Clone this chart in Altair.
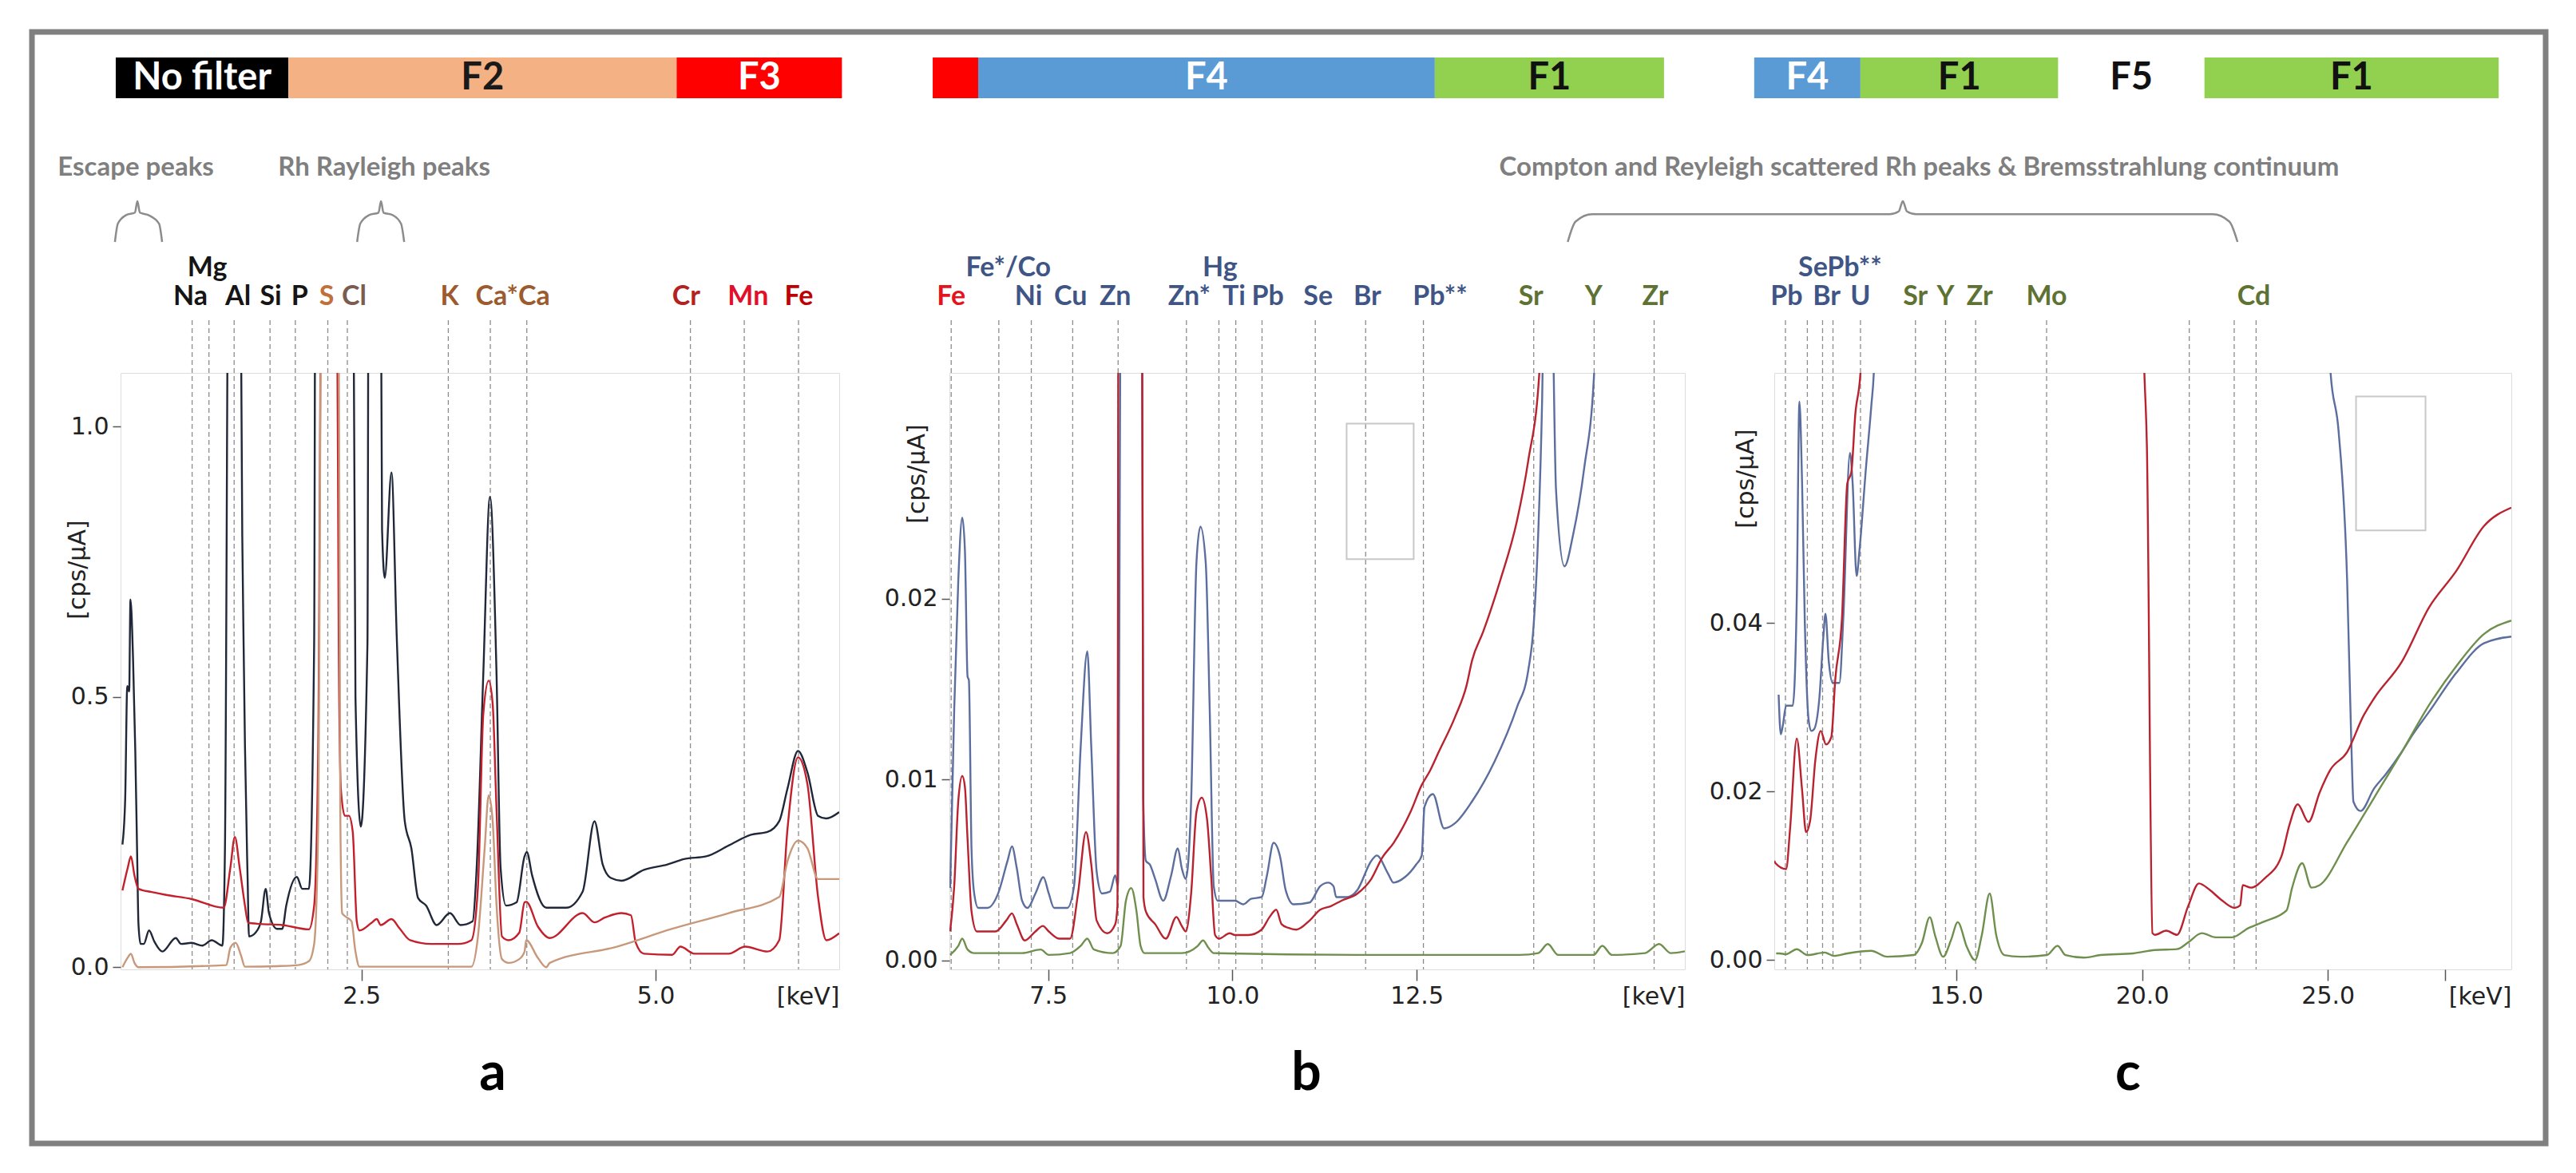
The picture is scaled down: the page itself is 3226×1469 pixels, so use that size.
import altair as alt
import pandas as pd

# ---------------- layout constants ----------------
H = 747
W_A, W_B, W_C = 900, 921, 923

A_X = [0.453, 6.56]
A_Y = [-0.004, 1.099]
B_X = [6.16, 16.14]
B_Y = [-0.0005, 0.0325]
C_X = [10.10, 29.94]
C_Y = [-0.0011, 0.0697]

# ---------------- panel a data (keV, cps/uA) ----------------
a_nofilter_kev = [0.469, 0.492, 0.510, 0.526, 0.537, 0.559, 0.578, 0.593, 0.605, 0.623,
                  0.650, 0.695, 0.741, 0.808, 0.922, 0.967, 1.057, 1.148, 1.227, 1.318,
                  1.340, 1.374, 1.465, 1.487, 1.499, 1.510, 1.533, 1.544, 1.600, 1.646,
                  1.686, 1.714, 1.782, 1.827, 1.861, 1.951, 1.997, 2.053, 2.098, 2.110,
                  2.426, 2.449, 2.494, 2.551, 2.562, 2.660, 2.675, 2.698, 2.755, 2.800,
                  2.868, 2.924, 2.981, 3.049, 3.139, 3.252, 3.343, 3.445, 3.479, 3.535,
                  3.592, 3.648, 3.682, 3.728, 3.818, 3.886, 3.905, 3.950, 4.070, 4.240,
                  4.380, 4.480, 4.550, 4.620, 4.710, 4.900, 5.100, 5.240, 5.430, 5.620,
                  5.810, 5.950, 6.050, 6.120, 6.210, 6.290, 6.380, 6.450, 6.560]
a_nofilter_cps = [0.227, 0.310, 0.520, 0.510, 0.680, 0.570, 0.400, 0.220, 0.080, 0.043,
                  0.043, 0.068, 0.047, 0.029, 0.054, 0.043, 0.045, 0.040, 0.050, 0.040,
                  0.220, 1.500, 1.500, 0.800, 0.590, 0.410, 0.160, 0.057, 0.064, 0.085,
                  0.145, 0.100, 0.071, 0.071, 0.114, 0.167, 0.145, 0.145, 0.600, 1.500,
                  1.500, 0.500, 0.260, 0.600, 1.500, 1.500, 0.810, 0.720, 0.915, 0.610,
                  0.270, 0.220, 0.128, 0.114, 0.078, 0.100, 0.078, 0.085, 0.184, 0.540,
                  0.870, 0.540, 0.185, 0.114, 0.120, 0.205, 0.213, 0.170, 0.110, 0.110,
                  0.140, 0.270, 0.190, 0.165, 0.160, 0.180, 0.190, 0.200, 0.205, 0.225,
                  0.245, 0.250, 0.270, 0.330, 0.400, 0.360, 0.280, 0.275, 0.287]

a_f3_kev = [0.469, 0.514, 0.541, 0.571, 0.605, 0.718, 0.831, 1.057, 1.329, 1.386,
            1.424, 1.465, 1.510, 1.537, 1.646, 1.827, 2.053, 2.098, 2.132, 2.166,
            2.291, 2.307, 2.325, 2.359, 2.393, 2.426, 2.460, 2.483, 2.585, 2.630,
            2.664, 2.755, 2.823, 2.913, 3.094, 3.320, 3.434, 3.490, 3.535, 3.581,
            3.615, 3.648, 3.694, 3.750, 3.841, 3.886, 3.900, 4.000, 4.100, 4.380,
            4.480, 4.570, 4.710, 4.790, 4.830, 4.900, 5.140, 5.210, 5.330, 5.620,
            5.760, 5.950, 6.050, 6.120, 6.210, 6.290, 6.380, 6.450, 6.560]
a_f3_cps = [0.142, 0.184, 0.205, 0.170, 0.145, 0.139, 0.134, 0.126, 0.110, 0.184,
            0.241, 0.184, 0.114, 0.082, 0.080, 0.078, 0.070, 0.114, 0.396, 1.500,
            1.300, 0.600, 0.330, 0.280, 0.280, 0.250, 0.085, 0.068, 0.082, 0.089,
            0.078, 0.089, 0.072, 0.050, 0.043, 0.043, 0.050, 0.149, 0.467, 0.530,
            0.487, 0.290, 0.057, 0.050, 0.064, 0.120, 0.121, 0.075, 0.054, 0.100,
            0.083, 0.092, 0.100, 0.096, 0.046, 0.025, 0.023, 0.038, 0.025, 0.025,
            0.038, 0.029, 0.050, 0.255, 0.388, 0.338, 0.130, 0.050, 0.063]

a_f2_kev = [0.469, 0.514, 0.541, 0.571, 0.605, 1.352, 1.386, 1.431, 1.476, 1.510,
            1.782, 1.963, 2.053, 2.098, 2.132, 2.166, 2.302, 2.320, 2.336, 2.370,
            2.415, 2.449, 2.483, 3.434, 3.490, 3.547, 3.581, 3.615, 3.648, 3.694,
            3.750, 3.841, 3.886, 3.900, 4.000, 4.070, 4.100, 4.670, 5.140, 5.620,
            6.050, 6.120, 6.210, 6.290, 6.380, 6.560]
a_f2_cps = [0.000, 0.018, 0.025, 0.008, 0.000, 0.004, 0.036, 0.045, 0.022, 0.001,
            0.002, 0.004, 0.011, 0.043, 0.255, 1.500, 1.500, 0.290, 0.100, 0.093,
            0.085, 0.029, 0.001, 0.001, 0.057, 0.220, 0.318, 0.270, 0.114, 0.015,
            0.008, 0.015, 0.029, 0.050, 0.017, 0.000, 0.008, 0.038, 0.071, 0.100,
            0.130, 0.196, 0.234, 0.220, 0.163, 0.163]

# ---------------- panel b data ----------------
b_f4_kev = [6.170, 6.225, 6.280, 6.334, 6.370, 6.406, 6.424, 6.460, 6.496, 6.551,
            6.677, 6.821, 6.948, 7.009, 7.074, 7.146, 7.219, 7.327, 7.435, 7.508,
            7.580, 7.760, 7.851, 7.941, 8.031, 8.085, 8.158, 8.230, 8.338, 8.410,
            8.447, 8.490, 8.772, 8.790, 8.826, 8.880, 8.952, 9.061, 9.169, 9.259,
            9.313, 9.367, 9.440, 9.512, 9.566, 9.638, 9.692, 9.747, 9.801, 9.891,
            10.036, 10.144, 10.252, 10.396, 10.469, 10.559, 10.649, 10.722, 10.830, 11.047,
            11.191, 11.300, 11.372, 11.408, 11.552, 11.697, 11.884, 11.960, 12.112, 12.188,
            12.340, 12.493, 12.569, 12.607, 12.721, 12.873, 13.025, 13.253, 13.557, 13.861,
            14.013, 14.089, 14.150, 14.203, 14.240, 14.320, 14.392, 14.507, 14.621, 14.773,
            14.909, 14.950, 16.140]
b_f4_cps = [0.0040, 0.0139, 0.0210, 0.0245, 0.0227, 0.0157, 0.0155, 0.0061, 0.0037, 0.0029,
            0.0029, 0.0037, 0.0055, 0.0063, 0.0051, 0.0033, 0.0029, 0.0037, 0.0046, 0.0037,
            0.0029, 0.0029, 0.0041, 0.0118, 0.0171, 0.0118, 0.0049, 0.0037, 0.0038, 0.0047,
            0.0041, 0.0400, 0.0400, 0.0090, 0.0055, 0.0053, 0.0045, 0.0033, 0.0047, 0.0062,
            0.0051, 0.0045, 0.0088, 0.0220, 0.0240, 0.0220, 0.0139, 0.0041, 0.0033, 0.0033,
            0.0033, 0.0031, 0.0034, 0.0035, 0.0047, 0.0065, 0.0057, 0.0039, 0.0031, 0.0032,
            0.0041, 0.0043, 0.0041, 0.0035, 0.0035, 0.0039, 0.0055, 0.0058, 0.0048, 0.0043,
            0.0046, 0.0053, 0.0058, 0.0085, 0.0092, 0.0073, 0.0076, 0.0088, 0.0110, 0.0140,
            0.0160, 0.0186, 0.0236, 0.0310, 0.0400, 0.0400, 0.0260, 0.0218, 0.0235, 0.0272,
            0.0325, 0.0400, 0.0400]

b_f3_kev = [6.170, 6.225, 6.280, 6.334, 6.370, 6.406, 6.460, 6.532, 6.785, 6.930,
            7.009, 7.074, 7.183, 7.327, 7.428, 7.508, 7.652, 7.797, 7.905, 8.013,
            8.085, 8.158, 8.302, 8.410, 8.440, 8.455, 8.772, 8.793, 8.826, 8.952,
            9.097, 9.241, 9.313, 9.367, 9.440, 9.512, 9.584, 9.656, 9.711, 9.765,
            9.819, 9.963, 10.036, 10.216, 10.396, 10.505, 10.595, 10.667, 10.758, 10.866,
            11.047, 11.191, 11.336, 11.480, 11.697, 11.884, 12.036, 12.188, 12.416, 12.569,
            12.683, 12.797, 13.025, 13.177, 13.253, 13.405, 13.633, 13.861, 14.013, 14.165,
            14.250, 16.140]
b_f3_cps = [0.0016, 0.0041, 0.0088, 0.0102, 0.0096, 0.0067, 0.0027, 0.0016, 0.0016, 0.0022,
            0.0026, 0.0020, 0.0011, 0.0016, 0.0019, 0.0016, 0.0012, 0.0012, 0.0037, 0.0071,
            0.0053, 0.0022, 0.0015, 0.0020, 0.0030, 0.0400, 0.0400, 0.0035, 0.0027, 0.0020,
            0.0012, 0.0024, 0.0019, 0.0016, 0.0037, 0.0082, 0.0090, 0.0078, 0.0047, 0.0014,
            0.0012, 0.0015, 0.0014, 0.0014, 0.0017, 0.0024, 0.0028, 0.0020, 0.0018, 0.0017,
            0.0022, 0.0028, 0.0030, 0.0033, 0.0037, 0.0045, 0.0057, 0.0065, 0.0082, 0.0097,
            0.0105, 0.0115, 0.0135, 0.0152, 0.0166, 0.0182, 0.0210, 0.0243, 0.0276, 0.0325,
            0.0400, 0.0400]

b_f1_kev = [6.170, 6.280, 6.334, 6.406, 6.496, 7.146, 7.399, 7.508, 7.797, 7.941,
            8.031, 8.121, 8.374, 8.483, 8.555, 8.627, 8.699, 8.754, 8.808, 9.313,
            9.530, 9.602, 9.674, 9.747, 11.697, 13.900, 14.150, 14.280, 14.420, 14.900,
            15.020, 15.150, 15.600, 15.790, 15.950, 16.140]
b_f1_cps = [0.0003, 0.0008, 0.0012, 0.0006, 0.0004, 0.0004, 0.0006, 0.0003, 0.0004, 0.0008,
            0.0012, 0.0006, 0.0004, 0.0008, 0.0033, 0.0040, 0.0027, 0.0008, 0.0004, 0.0004,
            0.0008, 0.0011, 0.0007, 0.0004, 0.0003, 0.0003, 0.0004, 0.0009, 0.0003, 0.0003,
            0.0008, 0.0003, 0.0004, 0.0009, 0.0004, 0.0005]

# ---------------- panel c data ----------------
c_f4_kev = [10.217, 10.275, 10.332, 10.418, 10.597, 10.705, 10.776, 10.848, 10.919, 11.027,
            11.099, 11.170, 11.313, 11.421, 11.478, 11.564, 11.672, 11.851, 11.958, 12.137,
            12.209, 12.316, 12.388, 12.567, 12.710, 12.782, 12.850, 25.000, 25.070, 25.290,
            25.520, 25.630, 25.690, 25.880, 26.250, 26.550, 26.990, 27.290, 27.730, 28.460,
            29.200, 29.940]
c_f4_cps = [0.0315, 0.0268, 0.0279, 0.0302, 0.0302, 0.0429, 0.0663, 0.0566, 0.0406, 0.0284,
            0.0272, 0.0274, 0.0311, 0.0384, 0.0411, 0.0356, 0.0329, 0.0329, 0.0406, 0.0602,
            0.0566, 0.0456, 0.0484, 0.0584, 0.0657, 0.0700, 0.0800, 0.0800, 0.0700, 0.0628,
            0.0451, 0.0263, 0.0188, 0.0177, 0.0204, 0.0220, 0.0247, 0.0268, 0.0295, 0.0341,
            0.0376, 0.0384]

c_f3_kev = [10.100, 10.132, 10.418, 10.525, 10.705, 10.848, 10.955, 11.063, 11.206, 11.349,
            11.493, 11.636, 11.743, 11.922, 12.066, 12.173, 12.281, 12.424, 12.500, 20.000,
            20.060, 20.130, 20.280, 20.350, 20.650, 20.940, 21.240, 21.530, 21.830, 22.120,
            22.490, 22.640, 22.710, 22.930, 23.300, 23.750, 23.970, 24.190, 24.480, 24.780,
            25.070, 25.520, 25.960, 26.250, 26.990, 27.730, 28.460, 29.200, 29.940]
c_f3_cps = [0.0118, 0.0115, 0.0108, 0.0156, 0.0263, 0.0202, 0.0152, 0.0165, 0.0238, 0.0272,
            0.0256, 0.0265, 0.0334, 0.0406, 0.0566, 0.0579, 0.0648, 0.0700, 0.0800, 0.0800,
            0.0700, 0.0610, 0.0032, 0.0030, 0.0035, 0.0030, 0.0064, 0.0091, 0.0083, 0.0072,
            0.0062, 0.0065, 0.0089, 0.0086, 0.0097, 0.0123, 0.0161, 0.0185, 0.0164, 0.0199,
            0.0226, 0.0247, 0.0290, 0.0311, 0.0354, 0.0419, 0.0462, 0.0515, 0.0537]

c_f1_kev = [10.150, 10.239, 10.418, 10.705, 10.991, 11.457, 11.707, 12.066, 12.710, 13.140,
            13.857, 14.071, 14.286, 14.430, 14.645, 14.859, 15.038, 15.289, 15.504, 15.683,
            15.898, 16.077, 16.292, 16.722, 17.438, 17.725, 17.940, 18.441, 18.880, 19.760,
            20.350, 20.940, 21.240, 21.610, 21.980, 22.420, 22.860, 23.300, 23.890, 24.040,
            24.310, 24.560, 24.780, 25.520, 26.250, 26.990, 27.730, 28.460, 29.200, 29.940]
c_f1_cps = [0.0008, 0.0008, 0.0007, 0.0013, 0.0006, 0.0009, 0.0005, 0.0008, 0.0011, 0.0004,
            0.0006, 0.0020, 0.0051, 0.0029, 0.0004, 0.0024, 0.0045, 0.0015, 0.0000, 0.0029,
            0.0079, 0.0029, 0.0006, 0.0004, 0.0006, 0.0017, 0.0006, 0.0003, 0.0006, 0.0008,
            0.0012, 0.0013, 0.0021, 0.0032, 0.0027, 0.0027, 0.0038, 0.0046, 0.0059, 0.0086,
            0.0115, 0.0086, 0.0089, 0.0140, 0.0193, 0.0247, 0.0303, 0.0349, 0.0387, 0.0403]

# ---------------- element lines and labels ----------------
a_lines = [1.061, 1.204, 1.418, 1.723, 1.938, 2.214, 2.380, 3.238, 3.595, 3.905, 5.295, 5.753, 6.214]
b_lines = [6.184, 6.830, 7.271, 7.833, 8.449, 9.376, 9.817, 10.046, 10.402, 11.125, 11.808,
           12.592, 14.089, 14.909, 15.723]
c_lines = [10.40, 10.99, 11.40, 11.68, 12.42, 13.90, 14.71, 15.52, 17.43, 21.27, 22.48, 23.07]

BLK, BRN, BRN2, CLB = "#151515", "#C0703A", "#7A5C50", "#9C5B2E"
RD1, RD2, RD3, RD4 = "#B22222", "#E0102A", "#C00000", "#E3141C"
BLU, GRN = "#3F5585", "#5E7234"

a_low_names = ["Na", "Al", "Si", "P", "S", "Cl", "K", "Ca*Ca", "Cr", "Mn", "Fe"]
a_low_kev = [1.047, 1.451, 1.729, 1.974, 2.205, 2.437, 3.250, 3.786, 5.260, 5.785, 6.217]
a_low_col = [BLK, BLK, BLK, BLK, BRN, BRN2, CLB, CLB, RD1, RD2, RD3]
a_up_names = ["Mg"]
a_up_kev = [1.190]
a_up_col = [BLK]

b_low_names = ["Fe", "Ni", "Cu", "Zn", "Zn*", "Ti", "Pb", "Se", "Br", "Pb**", "Sr", "Y", "Zr"]
b_low_kev = [6.184, 7.233, 7.803, 8.411, 9.414, 10.023, 10.479, 11.163, 11.831, 12.819, 14.051, 14.901, 15.738]
b_low_col = [RD4, BLU, BLU, BLU, BLU, BLU, BLU, BLU, BLU, BLU, GRN, GRN, GRN]
b_up_names = ["Fe*/Co", "Hg"]
b_up_kev = [6.959, 9.832]
b_up_col = [BLU, BLU]

c_low_names = ["Pb", "Br", "U", "Sr", "Y", "Zr", "Mo", "Cd"]
c_low_kev = [10.43, 11.51, 12.42, 13.90, 14.71, 15.63, 17.43, 23.01]
c_low_col = [BLU, BLU, BLU, GRN, GRN, GRN, GRN, GRN]
c_up_names = ["SePb**"]
c_up_kev = [11.87]
c_up_col = [BLU]

# ---------------- filter bars (keV extent on each panel's axis) ----------------
a_bar_names = ["No filter", "F2", "F3"]
a_bar_x0 = [0.412, 1.879, 5.178]
a_bar_x1 = [1.879, 5.178, 6.583]
a_bar_fill = ["#000000", "#F4B183", "#FF0000"]
a_bar_text = ["#FFFFFF", "#1A1A1A", "#FFFFFF"]

b_bar_names = ["", "F4", "F1"]
b_bar_x0 = [5.933, 6.550, 12.747]
b_bar_x1 = [6.550, 12.747, 15.857]
b_bar_fill = ["#FF0000", "#5B9BD5", "#92D050"]
b_bar_text = ["#FFFFFF", "#FFFFFF", "#111111"]

c_bar_names = ["F4", "F1", "F5", "F1"]
c_bar_x0 = [9.559, 12.419, 17.744, 21.680]
c_bar_x1 = [12.419, 17.744, 21.680, 29.600]
c_bar_fill = ["#5B9BD5", "#92D050", "#FFFFFF", "#92D050"]
c_bar_text = ["#FFFFFF", "#111111", "#111111", "#111111"]

# ---------------- annotations ----------------
a_note_text = ["Escape peaks", "Rh Rayleigh peaks"]
a_note_kev = [0.582, 2.693]
c_note_text = ["Compton and Reyleigh scattered Rh peaks & Bremsstrahlung continuum"]
c_note_kev = [14.0]

# braces: (keV, normalised height) outline points
a_brace_id = ["e"] * 9 + ["r"] * 9
a_brace_kev = [0.405, 0.430, 0.500, 0.575, 0.596, 0.617, 0.690, 0.780, 0.806,
               2.463, 2.490, 2.565, 2.645, 2.666, 2.687, 2.765, 2.836, 2.863]
a_brace_v = [0.0, 0.45, 0.66, 0.72, 1.0, 0.72, 0.66, 0.45, 0.0,
             0.0, 0.45, 0.66, 0.72, 1.0, 0.72, 0.66, 0.45, 0.0]
c_brace_id = ["c"] * 11
c_brace_kev = [4.54, 4.75, 5.20, 13.20, 13.45, 13.56, 13.67, 13.92, 21.90, 22.35, 22.57]
c_brace_v = [0.0, 0.50, 0.68, 0.68, 0.75, 1.0, 0.75, 0.68, 0.68, 0.50, 0.0]

# inset boxes (empty grey rectangles)
b_box = dict(x0=[11.55], x1=[12.46], y0=[0.0222], y1=[0.0297])
c_box = dict(x0=[25.76], x1=[27.63], y0=[0.0510], y1=[0.0669])

# x tick values (last tick of c is drawn without a label)
a_xticks = [2.5, 5.0]
b_xticks = [7.5, 10.0, 12.5]
c_xticks = [15.0, 20.0, 25.0, 28.15]

AXIS_FONT = "DejaVu Sans"
LABEL_FONT = "Lato"


def build_panel(width, xdom, ydom, xticks, yticks, yfmt, title_x, title_y,
                series, lines_kev, low, up, bars, notes, brace, box, letter, letter_x,
                frame=False):
    xs = alt.Scale(domain=xdom, nice=False, zero=False)
    ys = alt.Scale(domain=ydom, nice=False, zero=False)
    xaxis = alt.Axis(values=xticks, title="[keV]", titleX=width, titleY=19,
                     labelExpr="datum.value > 27 ? '' : format(datum.value, '.1f')",
                     titleAlign="right", titleBaseline="top", titleFont=AXIS_FONT,
                     titleFontSize=30, titleFontWeight="normal", titleColor="#222222",
                     labelFont=AXIS_FONT, labelFontSize=30, labelColor="#222222",
                     tickSize=14, tickWidth=1.5, tickColor="#555555", labelPadding=4,
                     domain=False, grid=False)
    yaxis = alt.Axis(values=yticks, format=yfmt, title="[cps/µA]", titleX=title_x,
                     titleY=title_y, titleAngle=270, titleAlign="center",
                     titleBaseline="middle", titleFont=AXIS_FONT, titleFontSize=30,
                     titleFontWeight="normal", titleColor="#222222", labelFont=AXIS_FONT,
                     labelFontSize=30, labelColor="#222222", tickSize=10, tickWidth=1.5,
                     tickColor="#555555", labelPadding=5, domain=False, grid=False,
                     orient="left")
    X = lambda f: alt.X(f, type="quantitative", scale=xs, axis=xaxis)

    layers = []
    if frame:
        layers.append(
            alt.Chart(pd.DataFrame({"k": [0]})).mark_rect(
                fillOpacity=0, stroke="#808080", strokeWidth=7, clip=False
            ).encode(x=alt.value(-111), x2=alt.value(3037), y=alt.value(-427), y2=alt.value(965))
        )
    # dashed element lines
    layers.append(
        alt.Chart(pd.DataFrame({"kev": lines_kev})).mark_rule(
            color="#8C8C8C", strokeDash=[6, 4], strokeWidth=1.3, clip=False
        ).encode(x=X("kev"), y=alt.value(-66), y2=alt.value(H))
    )
    # filter bars
    bdf = pd.DataFrame({"name": bars[0], "x0": bars[1], "x1": bars[2], "fill": bars[3], "tc": bars[4]})
    layers.append(
        alt.Chart(bdf).mark_rect(clip=False).encode(
            x=X("x0"), x2="x1", y=alt.value(-395), y2=alt.value(-344),
            color=alt.Color("fill:N", scale=None))
    )
    layers.append(
        alt.Chart(bdf).transform_calculate(mid="(datum.x0 + datum.x1) / 2").mark_text(
            font=LABEL_FONT, fontSize=47, fontWeight="bold", baseline="middle", clip=False
        ).encode(x=X("mid"), y=alt.value(-369), text="name:N", color=alt.Color("tc:N", scale=None))
    )
    # element labels
    for rows, yv in ((low, -95), (up, -131)):
        ldf = pd.DataFrame({"t": rows[0], "kev": rows[1], "c": rows[2]})
        layers.append(
            alt.Chart(ldf).mark_text(font=LABEL_FONT, fontSize=34, fontWeight="bold",
                                     baseline="middle", clip=False).encode(
                x=X("kev"), y=alt.value(yv), text="t:N", color=alt.Color("c:N", scale=None))
        )
    # grey annotations
    if notes is not None:
        ndf = pd.DataFrame({"t": notes[0], "kev": notes[1]})
        layers.append(
            alt.Chart(ndf).mark_text(font=LABEL_FONT, fontSize=33, fontWeight="bold",
                                     color="#7F7F7F", baseline="middle", clip=False).encode(
                x=X("kev"), y=alt.value(-257), text="t:N")
        )
    # inset box
    if box is not None:
        layers.append(
            alt.Chart(pd.DataFrame(box)).mark_rect(fillOpacity=0, stroke="#C8C8C8",
                                                   strokeWidth=2).encode(
                x=X("x0"), x2="x1",
                y=alt.Y("y0", type="quantitative", scale=ys, axis=yaxis), y2="y1")
        )
    # spectra
    for kev, cps, col in series:
        layers.append(
            alt.Chart(pd.DataFrame({"kev": kev, "cps": cps})).mark_line(
                color=col, strokeWidth=2.4, clip=True, interpolate="monotone"
            ).encode(x=X("kev"), y=alt.Y("cps", type="quantitative", scale=ys, axis=yaxis))
        )
    # panel letter
    layers.append(
        alt.Chart(pd.DataFrame({"t": [letter]})).mark_text(
            font=LABEL_FONT, fontSize=66, fontWeight="bold", baseline="alphabetic",
            align="center", color="#000000"
        ).encode(x=alt.value(letter_x), y=alt.value(898), text="t:N")
    )
    main = alt.layer(*layers).properties(width=width, height=H)

    if brace is not None:
        brdf = pd.DataFrame({"id": brace[0], "kev": brace[1], "v": brace[2]})
        br = alt.Chart(brdf).mark_line(color="#8C8C8C", strokeWidth=2.5, clip=False,
                                       interpolate="monotone").encode(
            x=X("kev"),
            y=alt.Y("v", type="quantitative",
                    scale=alt.Scale(domain=[0, 1], range=[-164, -215]), axis=None),
            detail="id:N")
        return alt.layer(main, br).resolve_scale(y="independent").properties(width=width, height=H)
    return main


pa = build_panel(
    W_A, A_X, A_Y, a_xticks, [0.0, 0.5, 1.0], ".1f", -54, 246,
    [(a_nofilter_kev, a_nofilter_cps, "#1F2739"),
     (a_f3_kev, a_f3_cps, "#C3202C"),
     (a_f2_kev, a_f2_cps, "#C8987A")],
    a_lines,
    (a_low_names, a_low_kev, a_low_col), (a_up_names, a_up_kev, a_up_col),
    (a_bar_names, a_bar_x0, a_bar_x1, a_bar_fill, a_bar_text),
    (a_note_text, a_note_kev),
    (a_brace_id, a_brace_kev, a_brace_v), None, "a", 466, frame=True)

pb = build_panel(
    W_B, B_X, B_Y, b_xticks, [0.0, 0.01, 0.02], ".2f", -41, 126,
    [(b_f4_kev, b_f4_cps, "#5B6E9E"),
     (b_f3_kev, b_f3_cps, "#B8232F"),
     (b_f1_kev, b_f1_cps, "#6F8F4E")],
    b_lines,
    (b_low_names, b_low_kev, b_low_col), (b_up_names, b_up_kev, b_up_col),
    (b_bar_names, b_bar_x0, b_bar_x1, b_bar_fill, b_bar_text),
    None, None, b_box, "b", 447)

pc = build_panel(
    W_C, C_X, C_Y, c_xticks, [0.0, 0.02, 0.04], ".2f", -36, 132,
    [(c_f4_kev, c_f4_cps, "#5B6E9E"),
     (c_f3_kev, c_f3_cps, "#B8232F"),
     (c_f1_kev, c_f1_cps, "#6F8F4E")],
    c_lines,
    (c_low_names, c_low_kev, c_low_col), (c_up_names, c_up_kev, c_up_col),
    (c_bar_names, c_bar_x0, c_bar_x1, c_bar_fill, c_bar_text),
    (c_note_text, c_note_kev),
    (c_brace_id, c_brace_kev, c_brace_v), c_box, "c", 443)

chart = alt.hconcat(
    pa,
    alt.hconcat(pb, pc, spacing=112, bounds="flush"),
    spacing=138, bounds="flush",
).properties(
    padding={"left": 28, "top": 28, "right": 20, "bottom": 20}
).configure_view(
    stroke="#303030", strokeWidth=3
).configure(background="white")

chart.save("out.html", embed_options={"renderer": "svg", "actions": False})
